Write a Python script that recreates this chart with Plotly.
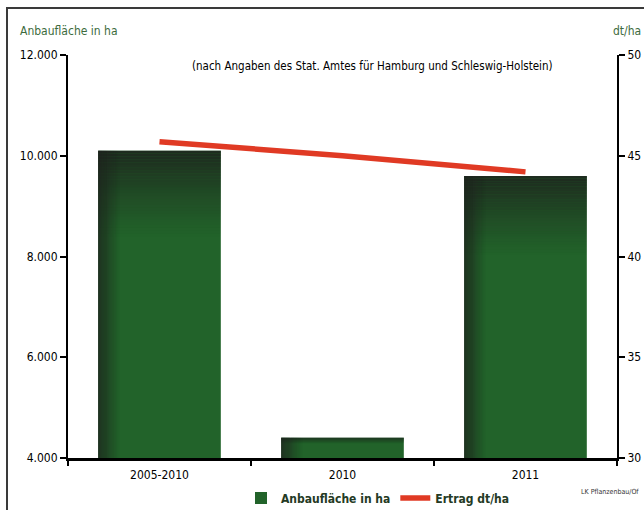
import plotly.graph_objects as go

categories = ["2005-2010", "2010", "2011"]
area_ha = [10100, 4400, 9600]
yield_dt = [45.7, 45.0, 44.2]

W, H = 644, 510
L, R, T, B = 68, 27, 55, 52
pw, ph = W - L - R, H - T - B

FONT = "DejaVu Sans Condensed, Liberation Sans Narrow, sans-serif"
GREEN = "#22632a"
BW = 0.67
ymin, ymax = 4000, 12000

fig = go.Figure()

fig.add_trace(go.Bar(x=categories, y=area_ha, width=BW, marker=dict(color=GREEN, line=dict(width=0)),
                     name="Anbaufläche in ha", showlegend=True, hoverinfo="skip"))

# top shading: non-overlapping slices with decreasing opacity
N = 30
for k in range(N):
    D = [min(1700, 0.28 * (v - ymin)) for v in area_ha]
    a = 0.88 * (1 - k / N) ** 1.2
    fig.add_trace(go.Bar(x=categories, y=[d / N for d in D],
                         base=[v - d * (k + 1) / N for v, d in zip(area_ha, D)],
                         width=BW, marker=dict(color=f"rgba(30,36,30,{a:.3f})", line=dict(width=0)),
                         showlegend=False, hoverinfo="skip"))
# left shading
M = 20
SW = 0.12
for k in range(M):
    a = 0.88 * (1 - k / M) ** 1.3
    fig.add_trace(go.Bar(x=categories, y=[v - ymin for v in area_ha], base=[ymin] * 3,
                         width=SW / M, offset=-BW / 2 + SW * k / M,
                         marker=dict(color=f"rgba(30,34,30,{a:.3f})", line=dict(width=0)),
                         showlegend=False, hoverinfo="skip"))

fig.add_trace(go.Scatter(x=categories, y=yield_dt, yaxis="y2", mode="lines",
                         line=dict(color="#e03a24", width=5.5), name="Ertrag dt/ha"))

def px_x(p):
    return (p - L) / pw

def px_y(p):
    return (H - B - p) / ph

fig.update_layout(
    width=W, height=H,
    margin=dict(l=L, r=R, t=T, b=B, pad=0, autoexpand=False),
    paper_bgcolor="white", plot_bgcolor="white",
    barmode="overlay",
    separators=",.",
    font=dict(family=FONT, size=12, color="black"),
    xaxis=dict(type="category", showline=True, linecolor="black", linewidth=3, automargin=False,
               ticks="outside", tickson="boundaries", ticklen=5, tickwidth=2, tickcolor="black",
               showgrid=False, tickfont=dict(size=12), ticklabelstandoff=4),
    yaxis=dict(range=[ymin, ymax], dtick=2000, tickformat=",d", showline=True, linecolor="black",
               linewidth=2, ticks="outside", ticklen=6, tickwidth=2, tickcolor="black", automargin=False,
               showgrid=False, zeroline=False, tickfont=dict(size=12)),
    yaxis2=dict(range=[30, 50], dtick=5, overlaying="y", side="right", showline=True, automargin=False,
                linecolor="black", linewidth=2, ticks="outside", ticklen=6, tickwidth=2,
                tickcolor="black", showgrid=False, zeroline=False, tickfont=dict(size=12)),
    legend=dict(orientation="h", xref="container", yref="container", x=378 / W, xanchor="center",
                y=1 - 498 / H, yanchor="middle",
                font=dict(size=12, color="#243a24", weight="bold"), bgcolor="rgba(0,0,0,0)",
                itemwidth=30, tracegroupgap=0),
    shapes=[dict(type="rect", xref="paper", yref="paper", x0=px_x(7), x1=px_x(700),
                 y0=px_y(560), y1=px_y(8), line=dict(color="#3a3a3a", width=2), layer="below")],
    annotations=[
        dict(text="Anbaufläche in ha", xref="paper", yref="paper", x=px_x(18), y=px_y(31),
             xanchor="left", yanchor="middle", showarrow=False, font=dict(size=12, color="#3d6b3d")),
        dict(text="dt/ha", xref="paper", yref="paper", x=px_x(611), y=px_y(31),
             xanchor="left", yanchor="middle", showarrow=False, font=dict(size=12, color="#3d6b3d")),
        dict(text="(nach Angaben des Stat. Amtes für Hamburg und Schleswig-Holstein)", xref="paper",
             yref="paper", x=px_x(372), y=px_y(66), xanchor="center", yanchor="middle",
             showarrow=False, font=dict(size=11.5, color="black")),
        dict(text="LK Pflanzenbau/Of", xref="paper", yref="paper", x=px_x(579), y=px_y(492),
             xanchor="left", yanchor="middle", showarrow=False, font=dict(size=7, color="#333")),
    ],
)

fig.write_html("out.html", config={"displayModeBar": False},
               post_script="document.body.style.margin='0';")
